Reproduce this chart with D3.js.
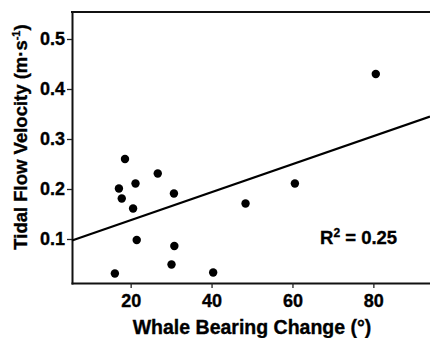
<!DOCTYPE html>
<html>
<head>
<meta charset="utf-8">
<script src="https://cdn.jsdelivr.net/npm/d3@7"></script>
<style>
    html, body { margin: 0; padding: 0; background: #fff; }
    svg text { font-family: "Liberation Sans", Arial, sans-serif; font-weight: bold; fill: #000; stroke: #000; stroke-width: 0.35px; }
</style>
</head>
<body>
<div id="chart-div"></div>
<script>
// data
const bearingChange = [16.1, 17.1, 17.8, 18.6, 20.6, 21.2, 21.5, 26.7, 30.1, 30.7, 30.8, 40.4, 48.4, 60.6, 80.6];
const flowVelocity  = [0.031, 0.201, 0.181, 0.26, 0.161, 0.211, 0.098, 0.231, 0.049, 0.191, 0.086, 0.033, 0.171, 0.211, 0.43];
const xTicks = [20, 40, 60, 80];
const yTicks = [0.1, 0.2, 0.3, 0.4, 0.5];
const fitSlope = 0.0028;      // regression line
const fitIntercept = 0.0816;
const rSquared = '0.25';

window.Chart = window.Chart || {};

Chart.init = function() {
    Chart.width = 430;
    Chart.height = 338;
    Chart.left = 72;
    Chart.top = 12;
    Chart.bottom = 283;

    Chart.svg = d3.select('#chart-div')
                  .append('svg')
                    .attr('width', Chart.width)
                    .attr('height', Chart.height);

    Chart.x = d3.scaleLinear()
                .domain([5.5, 94])
                .range([Chart.left, Chart.width]);
    Chart.y = d3.scaleLinear()
                .domain([0.012, 0.554])
                .range([Chart.bottom, Chart.top]);

    Chart.drawAxes();
    Chart.drawFit();
    Chart.drawPoints();
    Chart.drawLabels();
};

Chart.drawAxes = function() {
    let xAxis = Chart.svg.append('g')
        .attr('transform', 'translate(0,' + Chart.bottom + ')')
        .call(d3.axisBottom(Chart.x).tickValues(xTicks).tickSize(5).tickSizeOuter(0).tickPadding(6));
    let yAxis = Chart.svg.append('g')
        .attr('transform', 'translate(' + Chart.left + ',0)')
        .call(d3.axisLeft(Chart.y).tickValues(yTicks).tickFormat(d3.format('.1f'))
                .tickSize(5).tickSizeOuter(0).tickPadding(2));

    [xAxis, yAxis].forEach(function(ax) {
        ax.select('.domain').attr('stroke', '#111').attr('stroke-width', 2).attr('stroke-linecap', 'square');
        ax.selectAll('.tick line').attr('stroke', '#222').attr('stroke-width', 1.3);
        ax.selectAll('.tick text').attr('font-size', 18).attr('fill', null);
        ax.attr('font-family', null);
    });

    // top frame line
    Chart.svg.append('line')
        .attr('x1', Chart.x.range()[0]).attr('x2', Chart.x.range()[1])
        .attr('y1', Chart.y.range()[1]).attr('y2', Chart.y.range()[1])
        .attr('stroke', '#111').attr('stroke-width', 2).attr('stroke-linecap', 'square');
};

Chart.drawFit = function() {
    let xs = Chart.x.domain();
    Chart.svg.append('line')
        .attr('x1', Chart.x(xs[0])).attr('y1', Chart.y(fitIntercept + fitSlope * xs[0]))
        .attr('x2', Chart.x(xs[1])).attr('y2', Chart.y(fitIntercept + fitSlope * xs[1]))
        .attr('stroke', '#000').attr('stroke-width', 2.2);
};

Chart.drawPoints = function() {
    Chart.svg.append('g')
        .selectAll('circle')
        .data(d3.range(bearingChange.length))
        .join('circle')
          .attr('cx', i => Chart.x(bearingChange[i]))
          .attr('cy', i => Chart.y(flowVelocity[i]))
          .attr('r', 4.2)
          .attr('fill', '#000');
};

Chart.drawLabels = function() {
    // x axis title
    Chart.svg.append('text')
        .attr('x', 252).attr('y', 334)
        .attr('text-anchor', 'middle')
        .attr('font-size', 19.5)
        .text('Whale Bearing Change (°)');

    // y axis title, rotated
    let yt = Chart.svg.append('text')
        .attr('transform', 'translate(27,137) rotate(-90)')
        .attr('text-anchor', 'middle')
        .attr('font-size', 18.5);
    yt.append('tspan').text('Tidal Flow Velocity (m·s');
    yt.append('tspan').attr('dy', -7).attr('font-size', 11).text('-1');
    yt.append('tspan').attr('dy', 7).text(')');

    // R squared note
    let r2 = Chart.svg.append('text')
        .attr('x', 320).attr('y', 244)
        .attr('font-size', 18.5);
    r2.append('tspan').text('R');
    r2.append('tspan').attr('dy', -7).attr('font-size', 12).text('2');
    r2.append('tspan').attr('dy', 7).text(' = ' + rSquared);
};

document.addEventListener('DOMContentLoaded', Chart.init);
</script>
</body>
</html>
